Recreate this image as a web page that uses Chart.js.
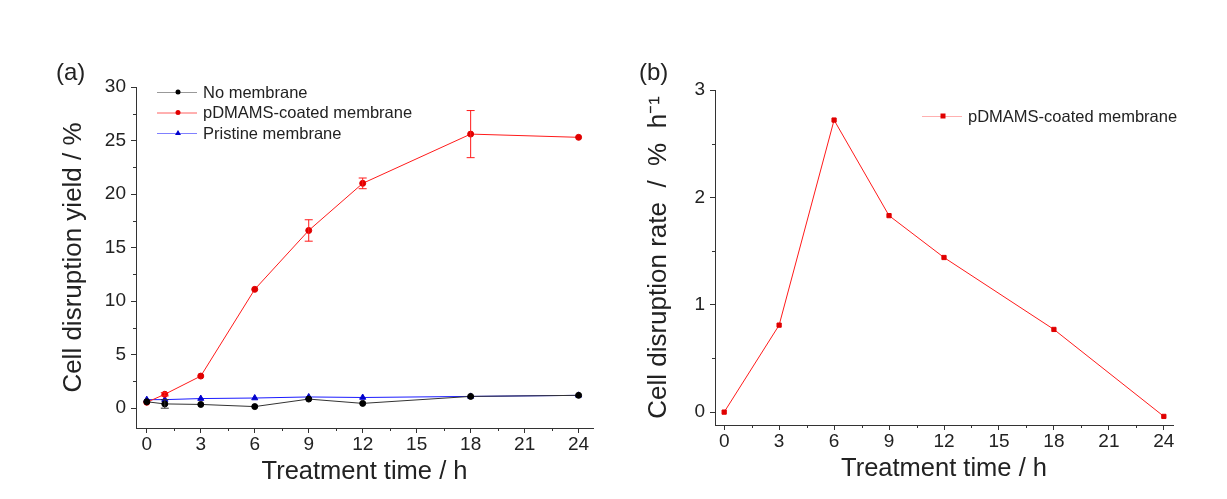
<!DOCTYPE html>
<html>
<head>
<meta charset="utf-8">
<script src="https://cdn.jsdelivr.net/npm/chart.js@4.4.1/dist/chart.umd.min.js"></script>
<style>
    html, body { margin: 0; padding: 0; background: #fff; }
    #wrap { position: relative; width: 1227px; height: 499px; overflow: hidden; }
    .panel { position: absolute; top: 0; }
    .tag { position: absolute; font: 24px Arial, "Liberation Sans", sans-serif; color: #222; }
</style>
</head>
<body>
<div id="wrap">
    <div class="panel" style="left:0; width:600px; height:499px;"><canvas id="chartA"></canvas></div>
    <div class="panel" style="left:600px; width:627px; height:499px;"><canvas id="chartB"></canvas></div>
    <div class="tag" style="left:56px; top:58px;">(a)</div>
    <div class="tag" style="left:639px; top:58px;">(b)</div>
</div>
<script>
// ─── Data ───────────────────────────────────────────────
const timesA = [0, 1, 3, 6, 9, 12, 18, 24];
const noMembrane = [0.6, 0.4, 0.35, 0.15, 0.85, 0.45, 1.1, 1.2];
const noMembraneErr = [0, 0.4, 0, 0, 0, 0, 0, 0];
const coatedYield = [0.55, 1.3, 3.0, 11.1, 16.6, 21.0, 25.6, 25.3];
const coatedYieldErr = [0, 0.15, 0, 0, 1.0, 0.5, 2.2, 0];
const pristine = [0.8, 0.8, 0.9, 0.95, 1.05, 1.0, 1.1, 1.2];

const timesB = [0, 3, 6, 9, 12, 18, 24];
const coatedRate = [0, 0.81, 2.72, 1.83, 1.44, 0.77, -0.04];

const xTicks = [0, 3, 6, 9, 12, 15, 18, 21, 24];
const xMinor = [1.5, 4.5, 7.5, 10.5, 13.5, 16.5, 19.5, 22.5];
const yTicksA = [0, 5, 10, 15, 20, 25, 30];
const yMinorA = [2.5, 7.5, 12.5, 17.5, 22.5, 27.5];
const yTicksB = [0, 1, 2, 3];
const yMinorB = [0.5, 1.5, 2.5];

const FONT = 'Arial, "Liberation Sans", sans-serif';
const AXIS = '#333';

const pts = (xs, ys) => xs.map((x, i) => ({ x: x, y: ys[i] }));

// error bars drawn through the scales
const errorBars = {
    id: 'errorBars',
    afterDatasetsDraw(chart) {
        const { ctx, scales: { x, y } } = chart;
        chart.data.datasets.forEach(ds => {
            if (!ds.errors) return;
            ctx.save();
            ctx.strokeStyle = ds.borderColor;
            ctx.lineWidth = 1;
            ds.data.forEach((p, i) => {
                const e = ds.errors[i];
                if (!e) return;
                const px = x.getPixelForValue(p.x);
                const top = y.getPixelForValue(p.y + e);
                const bot = y.getPixelForValue(p.y - e);
                ctx.beginPath();
                ctx.moveTo(px, top); ctx.lineTo(px, bot);
                ctx.moveTo(px - 4, top); ctx.lineTo(px + 4, top);
                ctx.moveTo(px - 4, bot); ctx.lineTo(px + 4, bot);
                ctx.stroke();
            });
            ctx.restore();
        });
    }
};

// minor ticks, outward, shorter than the major ones
const minorTicks = {
    id: 'minorTicks',
    afterDraw(chart, args, opts) {
        const { ctx, scales: { x, y } } = chart;
        ctx.save();
        ctx.strokeStyle = AXIS;
        ctx.lineWidth = 1;
        ctx.beginPath();
        (opts.x || []).forEach(v => {
            const px = Math.round(x.getPixelForValue(v)) + 0.5;
            ctx.moveTo(px, x.top); ctx.lineTo(px, x.top + 3);
        });
        (opts.y || []).forEach(v => {
            const py = Math.round(y.getPixelForValue(v)) + 0.5;
            ctx.moveTo(y.right, py); ctx.lineTo(y.right - 3, py);
        });
        ctx.stroke();
        ctx.restore();
    }
};

// legend inside the plot
const innerLegend = {
    id: 'innerLegend',
    afterDraw(chart, args, opts) {
        const { ctx } = chart;
        ctx.save();
        ctx.font = opts.fontSize + 'px ' + FONT;
        ctx.textBaseline = 'middle';
        chart.data.datasets.forEach((ds, i) => {
            const yy = opts.y + i * opts.rowGap;
            const x0 = opts.x, x1 = opts.x + 40, mx = opts.x + 21;
            ctx.strokeStyle = ds.legendLine || ds.borderColor;
            ctx.lineWidth = 1;
            ctx.beginPath(); ctx.moveTo(x0, yy + 0.5); ctx.lineTo(x1, yy + 0.5); ctx.stroke();
            ctx.fillStyle = ds.pointBackgroundColor;
            ctx.beginPath();
            if (ds.pointStyle === 'triangle') {
                ctx.moveTo(mx, yy - 3); ctx.lineTo(mx + 3, yy + 2); ctx.lineTo(mx - 3, yy + 2); ctx.closePath();
            } else if (ds.pointStyle === 'rect') {
                ctx.rect(mx - 2.5, yy - 2.5, 5, 5);
            } else {
                ctx.arc(mx, yy, 2.5, 0, Math.PI * 2);
            }
            ctx.fill();
            ctx.fillStyle = '#222';
            ctx.fillText(ds.label, x1 + 6, yy + 1);
        });
        ctx.restore();
    }
};

function axes(cfg) {
    return {
        x: {
            type: 'linear',
            min: cfg.xMin, max: cfg.xMax,
            afterBuildTicks: s => { s.ticks = xTicks.map(v => ({ value: v })); },
            afterFit: s => { s.height = 60; },
            border: { display: true, color: AXIS, width: 1 },
            grid: { drawOnChartArea: false, drawTicks: true, tickLength: 5, color: AXIS },
            ticks: { color: '#222', padding: 0, font: { family: FONT, size: 19 }, maxRotation: 0, autoSkip: false },
            title: { display: true, text: 'Treatment time / h', color: '#222',
                font: { family: FONT, size: 25.5 }, padding: { top: 0, bottom: 1 } }
        },
        y: {
            type: 'linear',
            min: cfg.yMin, max: cfg.yMax,
            afterBuildTicks: s => { s.ticks = cfg.yTicks.map(v => ({ value: v })); },
            afterFit: s => { s.width = cfg.yWidth; },
            border: { display: true, color: AXIS, width: 1 },
            grid: { drawOnChartArea: false, drawTicks: true, tickLength: 5, color: AXIS },
            ticks: { color: '#222', padding: 5, font: { family: FONT, size: 19 } },
            title: { display: true, text: cfg.yTitle, color: '#222',
                font: { family: FONT, size: 26 }, padding: { top: 0, bottom: 0 } }
        }
    };
}

new Chart(document.getElementById('chartA'), {
    type: 'line',
    data: {
        datasets: [
            {
                label: 'No membrane',
                data: pts(timesA, noMembrane),
                errors: noMembraneErr,
                borderColor: '#333',
                legendLine: '#999',
                borderWidth: 1,
                pointStyle: 'circle',
                pointRadius: 3,
                pointBackgroundColor: '#000',
                pointBorderColor: '#000'
            },
            {
                label: 'pDMAMS-coated membrane',
                data: pts(timesA, coatedYield),
                errors: coatedYieldErr,
                borderColor: '#ff1a1a',
                legendLine: '#ff6060',
                borderWidth: 1,
                pointStyle: 'circle',
                pointRadius: 3,
                pointBackgroundColor: '#e00000',
                pointBorderColor: '#e00000'
            },
            {
                label: 'Pristine membrane',
                data: pts(timesA, pristine),
                borderColor: '#1a1aff',
                legendLine: '#8080ff',
                borderWidth: 1,
                pointStyle: 'triangle',
                pointRadius: 3.5,
                pointBackgroundColor: '#0000cc',
                pointBorderColor: '#0000cc'
            }
        ]
    },
    options: {
        responsive: true,
        maintainAspectRatio: false,
        animation: false,
        layout: { padding: { left: 58, right: 7, top: 87, bottom: 11 } },
        plugins: {
            legend: { display: false },
            tooltip: { enabled: false },
            minorTicks: { x: xMinor, y: yMinorA },
            innerLegend: { x: 157, y: 92, rowGap: 20.5, fontSize: 16.5 }
        },
        scales: axes({ xMin: -0.6, xMax: 24.8, yMin: -1.85, yMax: 30, yTicks: yTicksA,
            yWidth: 78, yTitle: 'Cell disruption yield / %' })
    },
    plugins: [errorBars, minorTicks, innerLegend]
});

new Chart(document.getElementById('chartB'), {
    type: 'line',
    data: {
        datasets: [
            {
                label: 'pDMAMS-coated membrane',
                data: pts(timesB, coatedRate),
                borderColor: '#ff1a1a',
                legendLine: '#ffb0b0',
                borderWidth: 1,
                pointStyle: 'rect',
                pointRadius: 3,
                pointBackgroundColor: '#e00000',
                pointBorderColor: '#e00000'
            }
        ]
    },
    options: {
        responsive: true,
        maintainAspectRatio: false,
        animation: false,
        layout: { padding: { left: 43, right: 54, top: 90, bottom: 14 } },
        plugins: {
            legend: { display: false },
            tooltip: { enabled: false },
            minorTicks: { x: xMinor, y: yMinorB },
            innerLegend: { x: 322, y: 116, rowGap: 21, fontSize: 16.5 }
        },
        scales: axes({ xMin: -0.5, xMax: 24.5, yMin: -0.12, yMax: 3, yTicks: yTicksB,
            yWidth: 72, yTitle: 'Cell disruption rate  /  %  h\u207B\u00B9' })
    },
    plugins: [minorTicks, innerLegend]
});
</script>
</body>
</html>
